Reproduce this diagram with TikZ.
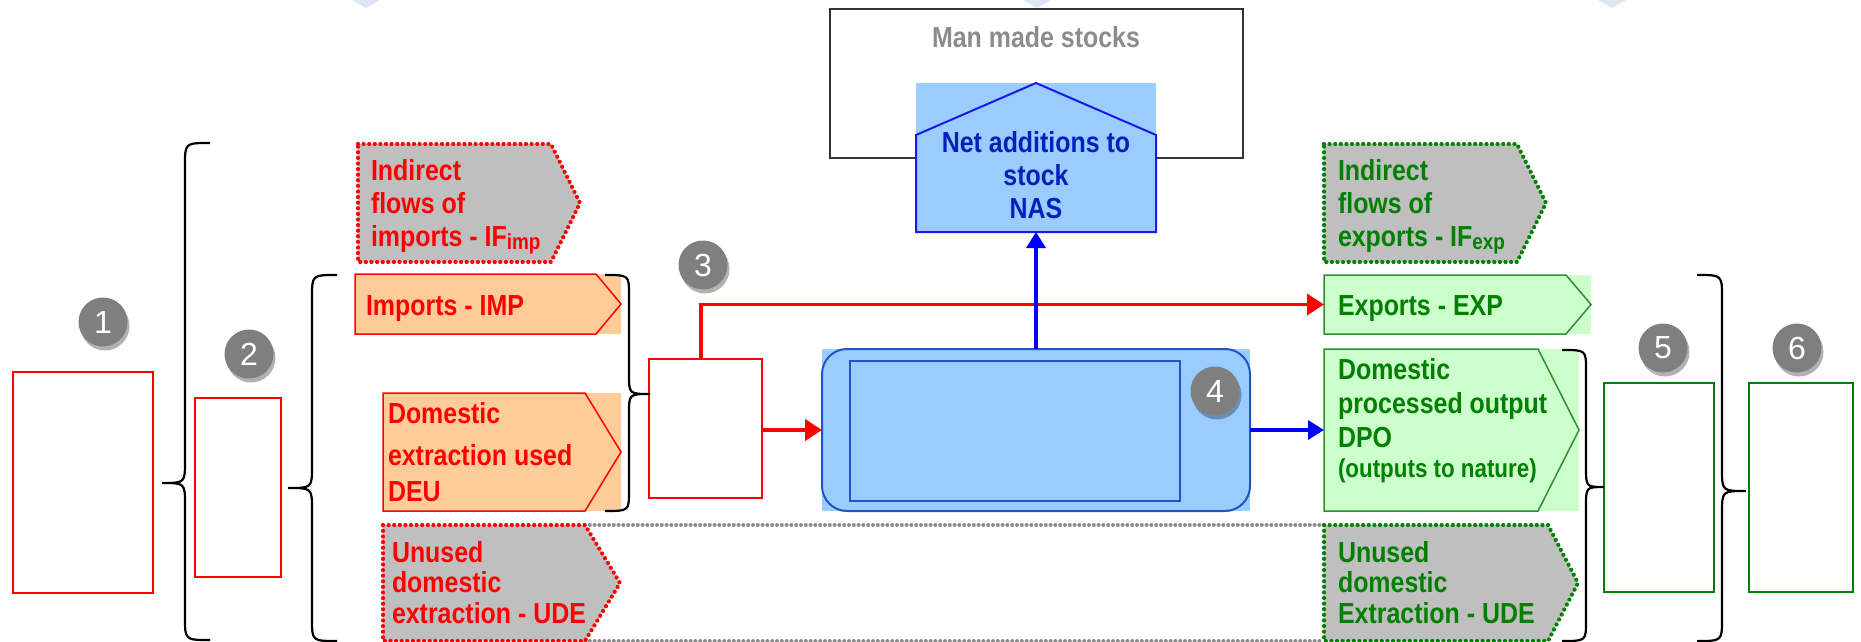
\documentclass[tikz,border=0pt]{standalone}
\usepackage{fontspec}
\setmainfont{Liberation Sans}
\newfontfamily\narrowsans{Liberation Sans}[FakeStretch=0.86]
\usetikzlibrary{arrows.meta,shadows}

\definecolor{peach}{HTML}{FFCC99}
\definecolor{mint}{HTML}{CCFFCC}
\definecolor{leaf}{HTML}{008000}
\definecolor{leafline}{HTML}{2F8F2F}
\definecolor{stone}{HTML}{BFBFBF}
\definecolor{sky}{HTML}{99CCFF}
\definecolor{navy}{HTML}{2452C8}
\definecolor{naslime}{HTML}{1A1AE6}
\definecolor{nastext}{HTML}{0022BB}
\definecolor{badgegray}{HTML}{7F7F7F}
\definecolor{stocktext}{HTML}{8C8C8C}
\definecolor{haze}{HTML}{DCE6F2}
\definecolor{flowblue}{HTML}{0000FF}

% strut fixing the top of the first text line
\newcommand\capstrut{\rule{0pt}{22pt}}
% curly brace: x of stem, x of tip, x of ends, y top, y tip, y bottom, bend
\newcommand\curlybrace[7]{%
  \draw[bracestroke] (#3,#4) .. controls (#1,#4) .. (#1,{#4+#7})
    -- (#1,{#5-#7}) .. controls (#1,#5) .. (#2,#5)
    .. controls (#1,#5) .. (#1,{#5+#7})
    -- (#1,{#6-#7}) .. controls (#1,#6) .. (#3,#6);}

\begin{document}
\begin{tikzpicture}[x=1pt,y=-1pt,
  slot/.style 2 args={inner sep=0pt,outer sep=0pt,minimum width=#1pt,minimum height=#2pt},
  redbox/.style={draw=red,line width=2pt,fill=white},
  greenbox/.style={draw=leaf,line width=2pt,fill=white},
  reddots/.style={draw=red,line width=4.2pt,dash pattern=on 0pt off 5.6pt,line cap=round,fill=stone},
  greendots/.style={draw=leaf,line width=4.2pt,dash pattern=on 0pt off 5.6pt,line cap=round,fill=stone},
  graydots/.style={draw=black!45,line width=4pt,dash pattern=on 0pt off 4.8pt,line cap=round},
  bracestroke/.style={draw=black,line width=2.2pt},
  lbl/.style={inner sep=0pt,outer sep=0pt,anchor=north west,align=left,
    font=\narrowsans\bfseries\fontsize{29}{33}\selectfont},
  badge/.style={circle,fill=badgegray,minimum size=49pt,inner sep=0pt,text=white,
    font=\fontsize{32}{32}\selectfont,
    drop shadow={shadow xshift=2pt,shadow yshift=-4pt,opacity=0.3,fill=black}},
  flowred/.style={draw=red,line width=#1,-{Triangle[length=17pt,width=21pt]}},
  flowblue/.style={draw=flowblue,line width=3.5pt,-{Triangle[length=16pt,width=19pt]}},
]
\useasboundingbox (0,0) rectangle (1861,642);

% pale markers along the top edge
\fill[haze] (352,0) -- (380,0) -- (366,8) -- cycle;
\fill[haze] (1023,0) -- (1051,0) -- (1037,8) -- cycle;
\fill[haze] (1598,0) -- (1626,0) -- (1612,8) -- cycle;

% man made stocks and net additions
\node[slot={413}{149},draw=black!80,line width=2pt,fill=white] (stocks) at (1036.5,83.5) {};
\node[inner sep=0pt,anchor=base,text=stocktext,font=\narrowsans\bfseries\fontsize{29}{33}\selectfont]
  (stocks-t) at (1036,48) {Man made stocks};
\node[slot={240}{149},fill=sky] (nas) at (1036,157.5) {};
\draw[naslime,line width=2pt] (nas.south west) -- ([yshift=-52pt]nas.north west) -- (nas.north)
  -- ([yshift=-52pt]nas.north east) -- (nas.south east) -- cycle;
\node[inner sep=0pt,anchor=north,align=center,text=nastext,
  font=\narrowsans\bfseries\fontsize{29}{33}\selectfont]
  (nas-t) at (1036,130) {\capstrut Net additions to\\stock\\NAS};

% economy box
\node[slot={428}{162}] (main) at (1036,430) {};
\fill[sky] (main.north west) rectangle (main.south east);
\draw[navy,line width=2pt,rounded corners=25pt] (main.north west) rectangle (main.south east);
\node[slot={330}{140},draw=navy,line width=1.5pt] (core) at (1015,431) {};

% red and green totals boxes
\node[slot={140}{221},redbox] (b1) at (83,482.5) {};
\node[slot={86}{179},redbox] (b2) at (238,487.5) {};
\node[slot={113}{139},redbox] (b3) at (705.5,428.5) {};
\node[slot={110}{209},greenbox] (b5) at (1659,487.5) {};
\node[slot={104}{209},greenbox] (b6) at (1801,487.5) {};

% input flows
\node[slot={222}{118}] (ifimp) at (469,203) {};
\node[slot={266}{60},fill=peach] (imp) at (488,304) {};
\node[slot={238}{118},fill=peach] (deu) at (502,452) {};
\node[slot={237}{116}] (uderd) at (501.5,583) {};
% output flows
\node[slot={222}{118}] (ifexp) at (1435,203) {};
\node[slot={267}{59},fill=mint] (exp) at (1457.5,304.5) {};
\node[slot={255}{162},fill=mint] (dpo) at (1451.5,430) {};
\node[slot={254}{116}] (udegrn) at (1451,583) {};

% unused extraction band
\draw[graydots] ([xshift=-35pt]uderd.north east) -- (udegrn.north west);
\draw[graydots] ([xshift=-35pt]uderd.south east) -- (udegrn.south west);

\draw[reddots] (ifimp.north west) -- ([xshift=-29pt]ifimp.north east) -- (ifimp.east)
  -- ([xshift=-29pt]ifimp.south east) -- (ifimp.south west) -- cycle;
\draw[red,line width=1.5pt] (imp.north west) -- ([xshift=-25pt]imp.north east) -- (imp.east)
  -- ([xshift=-25pt]imp.south east) -- (imp.south west) -- cycle;
\draw[red,line width=1.5pt] (deu.north west) -- ([xshift=-36pt]deu.north east) -- (deu.east)
  -- ([xshift=-36pt]deu.south east) -- (deu.south west) -- cycle;
\draw[reddots] (uderd.north west) -- ([xshift=-35pt]uderd.north east) -- (uderd.east)
  -- ([xshift=-35pt]uderd.south east) -- (uderd.south west) -- cycle;
\draw[greendots] (ifexp.north west) -- ([xshift=-29pt]ifexp.north east) -- (ifexp.east)
  -- ([xshift=-29pt]ifexp.south east) -- (ifexp.south west) -- cycle;
\draw[leafline,line width=1.5pt] (exp.north west) -- ([xshift=-25pt]exp.north east) -- (exp.east)
  -- ([xshift=-25pt]exp.south east) -- (exp.south west) -- cycle;
\draw[leafline,line width=1.5pt] (dpo.north west) -- ([xshift=-41pt]dpo.north east) -- (dpo.east)
  -- ([xshift=-41pt]dpo.south east) -- (dpo.south west) -- cycle;
\draw[greendots] (udegrn.north west) -- ([xshift=-30pt]udegrn.north east) -- (udegrn.east)
  -- ([xshift=-30pt]udegrn.south east) -- (udegrn.south west) -- cycle;

% flow labels
\node[lbl,text=red] (ifimp-t) at (371,158)
  {\capstrut Indirect\\flows of\\imports - IF\raisebox{-3pt}{\fontsize{22}{22}\selectfont imp}};
\node[lbl,text=red] (imp-t) at (366,293) {\capstrut Imports - IMP};
\node[lbl,text=red] (deu-t) at (388,401) {\capstrut Domestic\\[9pt]extraction used\\[3pt]DEU};
\node[lbl,text=red,font=\narrowsans\bfseries\fontsize{29}{30.5}\selectfont] (uderd-t) at (392,540)
  {\capstrut Unused\\domestic\\extraction - UDE};
\node[lbl,text=leaf] (ifexp-t) at (1338,158)
  {\capstrut Indirect\\flows of\\exports - IF\raisebox{-3pt}{\fontsize{22}{22}\selectfont exp}};
\node[lbl,text=leaf] (exp-t) at (1338,293) {\capstrut Exports - EXP};
\node[lbl,text=leaf,font=\narrowsans\bfseries\fontsize{29}{34}\selectfont] (dpo-t) at (1338,357)
  {\capstrut Domestic\\processed output\\DPO\\[-4pt]{\fontsize{26}{30}\selectfont (outputs to nature)}};
\node[lbl,text=leaf,font=\narrowsans\bfseries\fontsize{29}{30.5}\selectfont] (udegrn-t) at (1338,540)
  {\capstrut Unused\\domestic\\Extraction - UDE};

% braces
\curlybrace{185}{162}{210}{143}{483}{640}{22}
\curlybrace{312}{288}{337}{275}{488}{641}{22}
\curlybrace{629}{650}{605}{275}{394}{511}{20}
\curlybrace{1586}{1604}{1562}{350}{487}{641}{20}
\curlybrace{1722}{1746}{1697}{275}{491}{641}{22}

% flows
\draw[flowred=4pt] (b3.east |- main.west) -- (main.west);
\draw[flowred=3.5pt] ([xshift=-4.5pt]b3.north) |- (exp.west);
\draw[flowblue] (main.north) -- (nas.south);
\draw[flowblue] (main.east) -- (dpo.west);

% numbered markers
\node[badge] (n1) at (103,322) {1};
\node[badge] (n2) at (249,354) {2};
\node[badge] (n3) at (703,265) {3};
\node[badge] (n4) at (1215,391) {4};
\node[badge] (n5) at (1663,348) {5};
\node[badge] (n6) at (1797,348) {6};
\end{tikzpicture}
\end{document}
